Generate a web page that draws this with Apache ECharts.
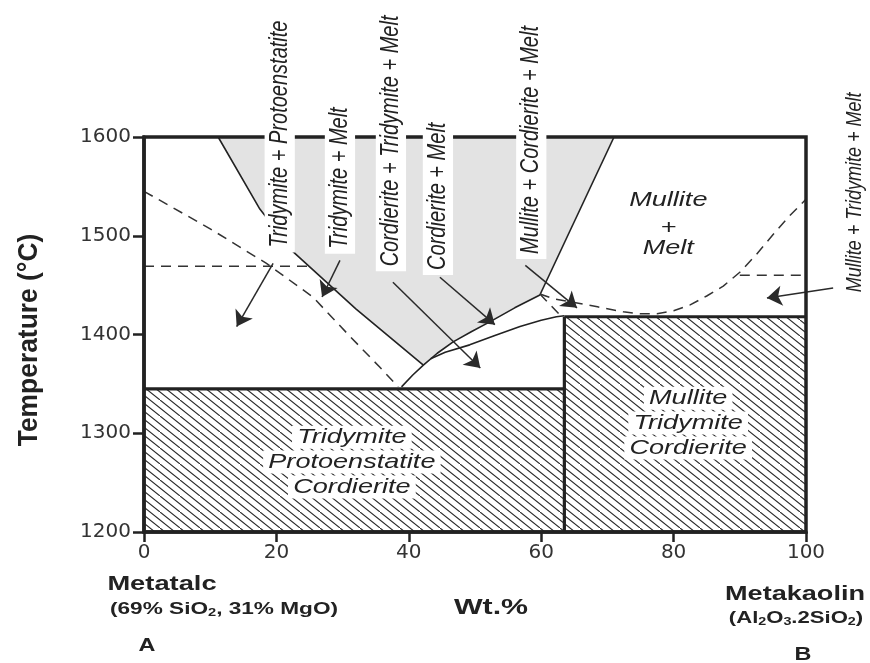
<!DOCTYPE html>
<html>
<head>
<meta charset="utf-8">
<script src="https://cdn.jsdelivr.net/npm/echarts@6/dist/echarts.min.js"></script>
<style>
  html, body { margin: 0; padding: 0; background: #fff; }
  #chart { width: 870px; height: 663px; }
</style>
</head>
<body>
<div id="chart"></div>
<script>
// Axis ticks: composition (wt.% metakaolin) and temperature (°C)
const wtTicks = [0, 20, 40, 60, 80, 100];
const tempTicks = [1200, 1300, 1400, 1500, 1600];

// Solid phase boundaries, points are [wt.%, °C]
const tridymiteBoundary = [[11.2, 1600], [17.5, 1527], [22.5, 1484], [32, 1426], [42.2, 1369]];
const mulliteBoundary = [[71, 1600], [59.8, 1440]];
const cordieriteUpper = [[38.9, 1347], [40.6, 1359], [42.2, 1369], [44.3, 1381], [46.7, 1392.5],
                         [49.5, 1403], [52.3, 1413], [56, 1427], [59.8, 1440]];
const cordieriteLower = [[43.3, 1375.5], [45.5, 1382], [49.2, 1389.5], [53, 1399], [56.8, 1408],
                         [60, 1414.5], [62.3, 1418], [63.5, 1419]];

// Subsolidus levels and the vertical join between the two assemblages
const solidusLeft = [[0, 1345], [63.5, 1345]];
const solidusRight = [[63.5, 1418], [100, 1418]];
const assemblageJoin = [[63.5, 1200], [63.5, 1418]];

// Dashed (estimated) boundaries
const dashedLeft = [[0, 1545], [10, 1507], [18.5, 1472], [25.5, 1438], [30.7, 1401], [35.6, 1367], [38.4, 1347]];
const dashedLeftFlat = [[0, 1469], [25, 1469]];
const dashedJoin = [[59.8, 1441], [62.8, 1420]];
const dashedRight = [[59.8, 1441], [62, 1436], [65, 1432.5], [68.5, 1428], [72.4, 1423], [75, 1421],
                     [77.5, 1421], [80, 1424], [82.5, 1430], [85, 1439], [87.5, 1449], [90, 1463],
                     [92.5, 1481], [95, 1501], [97.5, 1520], [100, 1537]];
const dashedRightFlat = [[90, 1460], [100, 1460]];

// Subsolidus fields as [wt0, t0, wt1, t1]
const subsolidusFields = [[0, 1200, 63.5, 1345], [63.5, 1200, 100, 1418]];

// Leader arrows from field names to their fields: [from, to]
const arrows = [
  [[19.5, 1472], [14.0, 1408]],
  [[29.6, 1475], [26.9, 1438]],
  [[37.6, 1453], [50.8, 1366]],
  [[44.7, 1458], [53.0, 1410]],
  [[57.6, 1470], [65.4, 1427]],
  [[104.1, 1447], [94.1, 1437]]
];

// Shaded field: bounded by tridymite boundary, upper cordierite curve and mullite boundary
const shadedField = tridymiteBoundary
  .concat(cordieriteUpper.filter(p => p[0] > 42.2))
  .concat([mulliteBoundary[0]]);

const INK = '#222';

function hatchPattern() {
  const c = document.createElement('canvas');
  c.width = 20; c.height = 16;
  const g = c.getContext('2d');
  g.strokeStyle = '#2a2a2a';
  g.lineWidth = 1.1;
  g.beginPath();
  g.moveTo(-1, -0.8); g.lineTo(21, 16.8);
  g.moveTo(9, -0.8);  g.lineTo(21, 8.8);
  g.moveTo(-1, 7.2);  g.lineTo(11, 16.8);
  g.stroke();
  return c;
}
const hatch = hatchPattern();

function solid(data, width, z) {
  return { type: 'line', data, symbol: 'none', showSymbol: false, silent: true, z: z || 4,
           lineStyle: { color: INK, width: width || 1.6 } };
}
function dashed(data) {
  return { type: 'line', data, symbol: 'none', showSymbol: false, silent: true, z: 4,
           lineStyle: { color: '#333', width: 1.5, type: [10, 7] } };
}

const chart = echarts.init(document.getElementById('chart'), null, { renderer: 'canvas' });

const option = {
  animation: false,
  backgroundColor: '#fff',
  grid: { left: 144, right: 64, top: 137, bottom: 131, show: true, z: 10,
          borderColor: INK, borderWidth: 3.5, backgroundColor: 'transparent',
          outerBoundsMode: 'none' },
  xAxis: {
    type: 'value', min: wtTicks[0], max: wtTicks[wtTicks.length - 1], interval: wtTicks[1] - wtTicks[0],
    z: 10,
    axisLine: { show: true, lineStyle: { color: INK, width: 3.5 } },
    axisTick: { show: true, inside: false, length: 10, lineStyle: { color: INK, width: 2.5 } },
    axisLabel: { color: '#333', fontFamily: 'DejaVu Sans', fontSize: 20, margin: 11,
                 formatter: v => String(v) },
    splitLine: { show: false }
  },
  yAxis: {
    type: 'value', min: tempTicks[0], max: tempTicks[tempTicks.length - 1], interval: tempTicks[1] - tempTicks[0],
    z: 10,
    axisLine: { show: true, lineStyle: { color: INK, width: 3.5 } },
    axisTick: { show: true, inside: false, length: 11, lineStyle: { color: INK, width: 2.5 } },
    axisLabel: { color: '#333', fontFamily: 'DejaVu Sans', fontSize: 20, margin: 13,
                 formatter: v => String(v) },
    splitLine: { show: false }
  },
  series: [
    {
      type: 'custom', silent: true, z: 1, data: shadedField,
      renderItem: (params, api) => params.dataIndex === 0 ? {
        type: 'polygon',
        shape: { points: shadedField.map(p => api.coord(p)) },
        style: { fill: '#e3e3e3' }
      } : null
    },
    {
      type: 'custom', silent: true, z: 2, data: subsolidusFields,
      encode: { x: [0, 2], y: [1, 3] },
      renderItem: (params, api) => {
        const a = api.coord([api.value(0), api.value(1)]);
        const b = api.coord([api.value(2), api.value(3)]);
        return { type: 'rect',
                 shape: { x: a[0], y: b[1], width: b[0] - a[0], height: a[1] - b[1] },
                 style: { fill: { image: hatch, repeat: 'repeat' } } };
      }
    },
    solid(tridymiteBoundary),
    solid(mulliteBoundary),
    solid(cordieriteUpper),
    solid(cordieriteLower),
    solid(solidusLeft, 3.2, 6),
    solid(solidusRight, 3.2, 6),
    solid(assemblageJoin, 3.2, 6),
    dashed(dashedLeft),
    dashed(dashedLeftFlat),
    dashed(dashedJoin),
    dashed(dashedRight),
    dashed(dashedRightFlat),
    {
      type: 'lines', coordinateSystem: 'cartesian2d', silent: true, z: 7, clip: false,
      data: arrows.map(a => ({ coords: a })),
      symbol: ['none', 'arrow'], symbolSize: [10, 15],
      lineStyle: { color: '#2a2a2a', width: 1.5, opacity: 1 }
    }
  ]
};
chart.setOption(option);

// Text annotations
const toPx = p => chart.convertToPixel({ gridIndex: 0 }, p);
function text(str, pos, o) {
  return {
    type: 'text', x: pos[0], y: pos[1], z: 100,
    rotation: o.rot || 0, scaleX: o.sx || 1, scaleY: o.sy || 1,
    style: {
      text: str, font: o.font, fill: o.fill || INK, rich: o.rich,
      textAlign: 'center', textVerticalAlign: 'middle', align: 'center', verticalAlign: 'middle',
      backgroundColor: o.bg, padding: o.pad
    }
  };
}
const FAMILY = '"Liberation Sans", Arial, sans-serif';
const ITALIC = 'italic 21px ' + FAMILY;
const VERT = 'italic 20px ' + FAMILY;
const BOLD = s => 'bold ' + s + 'px ' + FAMILY;
const R = Math.PI / 2;
const boxed = { bg: '#fff', pad: [1, 4] };

// Formula styles: body text with lowered subscripts
const formulaRich = {
  b: { font: BOLD(17), fill: INK },
  s: { font: BOLD(11), fill: INK, padding: [8, 0, 0, 0] }
};

const fieldNames = [
  // vertical names above the diagram
  ['Tridymite + Protoenstatite', [20.5, 1603], VERT],
  ['Tridymite + Melt', [29.6, 1558.5], VERT],
  ['Cordierite + Tridymite + Melt', [37.3, 1596], VERT],
  ['Cordierite + Melt', [44.4, 1540], VERT],
  ['Mullite + Cordierite + Melt', [58.5, 1597], VERT],
  ['Mullite + Tridymite + Melt', [107.4, 1544], 'italic 18px ' + FAMILY]
];

const graphic = [];
fieldNames.forEach(([s, p, f]) => graphic.push(text(s, toPx(p), { font: f, rot: R, sy: 1.26, bg: '#fff', pad: [2, 5] })));

[['Mullite', 1536], ['+', 1508], ['Melt', 1487]].forEach(([s, t]) =>
  graphic.push(text(s, toPx([79.2, t]), { font: ITALIC, sx: 1.29 })));

[['Tridymite', 1296], ['Protoenstatite', 1271], ['Cordierite', 1245.5]].forEach(([s, t]) =>
  graphic.push(text(s, toPx([31.4, t]), { font: ITALIC, sx: 1.29, bg: boxed.bg, pad: boxed.pad })));
[['Mullite', 1335.5], ['Tridymite', 1310.5], ['Cordierite', 1285]].forEach(([s, t]) =>
  graphic.push(text(s, toPx([82.2, t]), { font: ITALIC, sx: 1.29, bg: boxed.bg, pad: boxed.pad })));

// Axis titles and end-member names
graphic.push(text('Temperature (°C)', [29, 340], { font: BOLD(22), rot: R, sx: 1.2, sy: 1.27 }));
graphic.push(text('Metatalc', [162, 584], { font: BOLD(21), sx: 1.3 }));
graphic.push(text('{b|(69% SiO}{s|2}{b|, 31% MgO)}', [224, 609], { font: BOLD(17), sx: 1.33, rich: formulaRich }));
graphic.push(text('Wt.%', [491, 608], { font: BOLD(22), sx: 1.38 }));
graphic.push(text('Metakaolin', [795, 594], { font: BOLD(21), sx: 1.29 }));
graphic.push(text('{b|(Al}{s|2}{b|O}{s|3}{b|.2SiO}{s|2}{b|)}', [796, 618], { font: BOLD(17), sx: 1.3, rich: formulaRich }));
graphic.push(text('A', [147, 646], { font: BOLD(18), sx: 1.3 }));
graphic.push(text('B', [803, 655], { font: BOLD(18), sx: 1.3 }));

chart.setOption({ graphic });
</script>
</body>
</html>
